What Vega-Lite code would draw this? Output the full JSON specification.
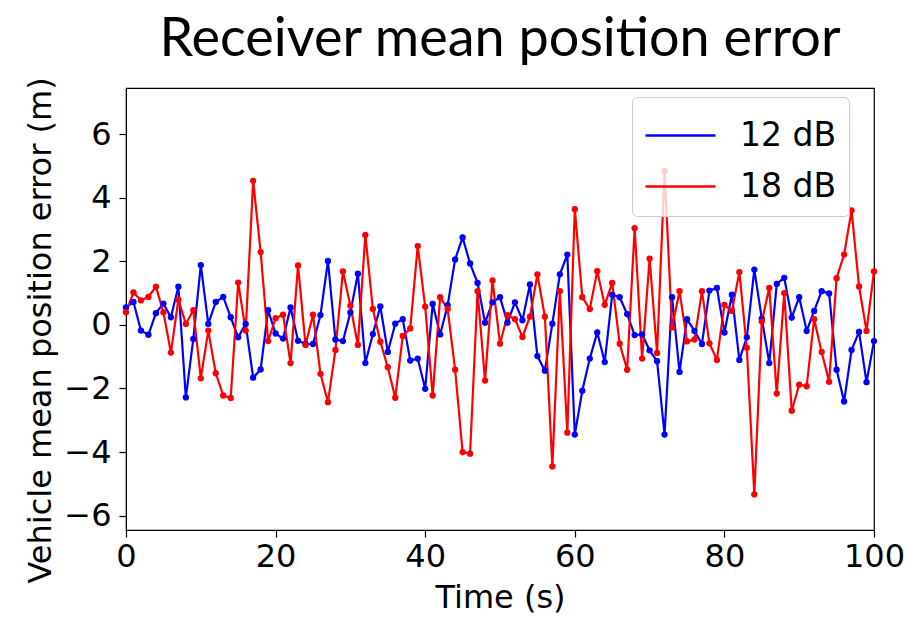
{
  "$schema": "https://vega.github.io/schema/vega-lite/v6.json",
  "autosize": {"type": "none"},
  "padding": {"left": 126, "top": 88, "right": 44, "bottom": 91},
  "width": 748,
  "height": 442,
  "background": "white",
  "title": {
    "text": "Receiver mean position error",
    "font": "Lato",
    "fontSize": 54,
    "fontWeight": "normal",
    "color": "black",
    "anchor": "middle",
    "offset": 26,
    "dy": 16
  },
  "config": {
    "view": {"stroke": "black", "strokeWidth": 1.2},
    "axis": {
      "grid": false,
      "domainColor": "black",
      "tickColor": "black",
      "labelColor": "black",
      "titleColor": "black",
      "labelFont": "DejaVu Sans",
      "titleFont": "DejaVu Sans",
      "titleFontWeight": "normal",
      "labelFontSize": 32,
      "titleFontSize": 32,
      "tickSize": 7,
      "tickWidth": 1.2
    }
  },
  "data": {"values": [
    {"t":0,"v":0.55,"s":"12 dB"},{"t":1,"v":0.72,"s":"12 dB"},{"t":2,"v":-0.18,"s":"12 dB"},{"t":3,"v":-0.31,"s":"12 dB"},{"t":4,"v":0.37,"s":"12 dB"},{"t":5,"v":0.67,"s":"12 dB"},{"t":6,"v":0.24,"s":"12 dB"},{"t":7,"v":1.2,"s":"12 dB"},{"t":8,"v":-2.28,"s":"12 dB"},{"t":9,"v":-0.44,"s":"12 dB"},
    {"t":10,"v":1.88,"s":"12 dB"},{"t":11,"v":0.03,"s":"12 dB"},{"t":12,"v":0.72,"s":"12 dB"},{"t":13,"v":0.88,"s":"12 dB"},{"t":14,"v":0.24,"s":"12 dB"},{"t":15,"v":-0.39,"s":"12 dB"},{"t":16,"v":0.03,"s":"12 dB"},{"t":17,"v":-1.66,"s":"12 dB"},{"t":18,"v":-1.4,"s":"12 dB"},{"t":19,"v":0.46,"s":"12 dB"},
    {"t":20,"v":-0.27,"s":"12 dB"},{"t":21,"v":-0.43,"s":"12 dB"},{"t":22,"v":0.55,"s":"12 dB"},{"t":23,"v":-0.5,"s":"12 dB"},{"t":24,"v":-0.6,"s":"12 dB"},{"t":25,"v":-0.6,"s":"12 dB"},{"t":26,"v":0.31,"s":"12 dB"},{"t":27,"v":2.01,"s":"12 dB"},{"t":28,"v":-0.46,"s":"12 dB"},{"t":29,"v":-0.51,"s":"12 dB"},
    {"t":30,"v":0.39,"s":"12 dB"},{"t":31,"v":1.61,"s":"12 dB"},{"t":32,"v":-1.2,"s":"12 dB"},{"t":33,"v":-0.29,"s":"12 dB"},{"t":34,"v":0.58,"s":"12 dB"},{"t":35,"v":-0.85,"s":"12 dB"},{"t":36,"v":0.04,"s":"12 dB"},{"t":37,"v":0.18,"s":"12 dB"},{"t":38,"v":-1.12,"s":"12 dB"},{"t":39,"v":-1.06,"s":"12 dB"},
    {"t":40,"v":-2.01,"s":"12 dB"},{"t":41,"v":0.66,"s":"12 dB"},{"t":42,"v":-0.3,"s":"12 dB"},{"t":43,"v":0.62,"s":"12 dB"},{"t":44,"v":2.06,"s":"12 dB"},{"t":45,"v":2.75,"s":"12 dB"},{"t":46,"v":1.93,"s":"12 dB"},{"t":47,"v":1.32,"s":"12 dB"},{"t":48,"v":0.07,"s":"12 dB"},{"t":49,"v":0.71,"s":"12 dB"},
    {"t":50,"v":0.87,"s":"12 dB"},{"t":51,"v":0.07,"s":"12 dB"},{"t":52,"v":0.71,"s":"12 dB"},{"t":53,"v":0.15,"s":"12 dB"},{"t":54,"v":1.27,"s":"12 dB"},{"t":55,"v":-0.98,"s":"12 dB"},{"t":56,"v":-1.44,"s":"12 dB"},{"t":57,"v":0.04,"s":"12 dB"},{"t":58,"v":1.59,"s":"12 dB"},{"t":59,"v":2.21,"s":"12 dB"},
    {"t":60,"v":-3.45,"s":"12 dB"},{"t":61,"v":-2.07,"s":"12 dB"},{"t":62,"v":-1.06,"s":"12 dB"},{"t":63,"v":-0.24,"s":"12 dB"},{"t":64,"v":-1.17,"s":"12 dB"},{"t":65,"v":0.95,"s":"12 dB"},{"t":66,"v":0.87,"s":"12 dB"},{"t":67,"v":0.34,"s":"12 dB"},{"t":68,"v":-0.32,"s":"12 dB"},{"t":69,"v":-0.3,"s":"12 dB"},
    {"t":70,"v":-0.8,"s":"12 dB"},{"t":71,"v":-1.14,"s":"12 dB"},{"t":72,"v":-3.45,"s":"12 dB"},{"t":73,"v":0.87,"s":"12 dB"},{"t":74,"v":-1.48,"s":"12 dB"},{"t":75,"v":0.18,"s":"12 dB"},{"t":76,"v":-0.19,"s":"12 dB"},{"t":77,"v":-0.6,"s":"12 dB"},{"t":78,"v":1.08,"s":"12 dB"},{"t":79,"v":1.16,"s":"12 dB"},
    {"t":80,"v":-0.24,"s":"12 dB"},{"t":81,"v":0.95,"s":"12 dB"},{"t":82,"v":-1.1,"s":"12 dB"},{"t":83,"v":-0.39,"s":"12 dB"},{"t":84,"v":1.74,"s":"12 dB"},{"t":85,"v":0.2,"s":"12 dB"},{"t":86,"v":-1.2,"s":"12 dB"},{"t":87,"v":1.29,"s":"12 dB"},{"t":88,"v":1.48,"s":"12 dB"},{"t":89,"v":0.23,"s":"12 dB"},
    {"t":90,"v":0.87,"s":"12 dB"},{"t":91,"v":-0.19,"s":"12 dB"},{"t":92,"v":0.44,"s":"12 dB"},{"t":93,"v":1.06,"s":"12 dB"},{"t":94,"v":0.99,"s":"12 dB"},{"t":95,"v":-1.41,"s":"12 dB"},{"t":96,"v":-2.41,"s":"12 dB"},{"t":97,"v":-0.79,"s":"12 dB"},{"t":98,"v":-0.22,"s":"12 dB"},{"t":99,"v":-1.8,"s":"12 dB"},
    {"t":100,"v":-0.51,"s":"12 dB"},
    {"t":0,"v":0.4,"s":"18 dB"},{"t":1,"v":1.02,"s":"18 dB"},{"t":2,"v":0.77,"s":"18 dB"},{"t":3,"v":0.88,"s":"18 dB"},{"t":4,"v":1.2,"s":"18 dB"},{"t":5,"v":0.4,"s":"18 dB"},{"t":6,"v":-0.87,"s":"18 dB"},{"t":7,"v":0.79,"s":"18 dB"},{"t":8,"v":0.03,"s":"18 dB"},{"t":9,"v":0.46,"s":"18 dB"},
    {"t":10,"v":-1.68,"s":"18 dB"},{"t":11,"v":-0.18,"s":"18 dB"},{"t":12,"v":-1.52,"s":"18 dB"},{"t":13,"v":-2.22,"s":"18 dB"},{"t":14,"v":-2.3,"s":"18 dB"},{"t":15,"v":1.33,"s":"18 dB"},{"t":16,"v":-0.18,"s":"18 dB"},{"t":17,"v":4.53,"s":"18 dB"},{"t":18,"v":2.29,"s":"18 dB"},{"t":19,"v":-0.51,"s":"18 dB"},
    {"t":20,"v":0.21,"s":"18 dB"},{"t":21,"v":0.32,"s":"18 dB"},{"t":22,"v":-1.2,"s":"18 dB"},{"t":23,"v":1.87,"s":"18 dB"},{"t":24,"v":-0.63,"s":"18 dB"},{"t":25,"v":0.32,"s":"18 dB"},{"t":26,"v":-1.54,"s":"18 dB"},{"t":27,"v":-2.43,"s":"18 dB"},{"t":28,"v":-0.79,"s":"18 dB"},{"t":29,"v":1.68,"s":"18 dB"},
    {"t":30,"v":0.6,"s":"18 dB"},{"t":31,"v":-0.63,"s":"18 dB"},{"t":32,"v":2.83,"s":"18 dB"},{"t":33,"v":0.5,"s":"18 dB"},{"t":34,"v":-0.53,"s":"18 dB"},{"t":35,"v":-1.33,"s":"18 dB"},{"t":36,"v":-2.29,"s":"18 dB"},{"t":37,"v":-0.35,"s":"18 dB"},{"t":38,"v":-0.11,"s":"18 dB"},{"t":39,"v":2.48,"s":"18 dB"},
    {"t":40,"v":0.57,"s":"18 dB"},{"t":41,"v":-2.22,"s":"18 dB"},{"t":42,"v":0.87,"s":"18 dB"},{"t":43,"v":0.5,"s":"18 dB"},{"t":44,"v":-1.41,"s":"18 dB"},{"t":45,"v":-4.0,"s":"18 dB"},{"t":46,"v":-4.05,"s":"18 dB"},{"t":47,"v":1.06,"s":"18 dB"},{"t":48,"v":-1.75,"s":"18 dB"},{"t":49,"v":1.4,"s":"18 dB"},
    {"t":50,"v":-0.59,"s":"18 dB"},{"t":51,"v":0.31,"s":"18 dB"},{"t":52,"v":0.18,"s":"18 dB"},{"t":53,"v":-0.38,"s":"18 dB"},{"t":54,"v":0.26,"s":"18 dB"},{"t":55,"v":1.59,"s":"18 dB"},{"t":56,"v":0.26,"s":"18 dB"},{"t":57,"v":-4.45,"s":"18 dB"},{"t":58,"v":1.06,"s":"18 dB"},{"t":59,"v":-3.39,"s":"18 dB"},
    {"t":60,"v":3.64,"s":"18 dB"},{"t":61,"v":0.87,"s":"18 dB"},{"t":62,"v":0.5,"s":"18 dB"},{"t":63,"v":1.69,"s":"18 dB"},{"t":64,"v":0.63,"s":"18 dB"},{"t":65,"v":1.32,"s":"18 dB"},{"t":66,"v":-0.59,"s":"18 dB"},{"t":67,"v":-1.41,"s":"18 dB"},{"t":68,"v":3.04,"s":"18 dB"},{"t":69,"v":-1.06,"s":"18 dB"},
    {"t":70,"v":2.08,"s":"18 dB"},{"t":71,"v":-0.88,"s":"18 dB"},{"t":72,"v":4.84,"s":"18 dB"},{"t":73,"v":-0.08,"s":"18 dB"},{"t":74,"v":1.06,"s":"18 dB"},{"t":75,"v":-0.52,"s":"18 dB"},{"t":76,"v":-0.46,"s":"18 dB"},{"t":77,"v":1.06,"s":"18 dB"},{"t":78,"v":-0.58,"s":"18 dB"},{"t":79,"v":-1.1,"s":"18 dB"},
    {"t":80,"v":0.63,"s":"18 dB"},{"t":81,"v":0.44,"s":"18 dB"},{"t":82,"v":1.66,"s":"18 dB"},{"t":83,"v":-0.72,"s":"18 dB"},{"t":84,"v":-5.33,"s":"18 dB"},{"t":85,"v":0.11,"s":"18 dB"},{"t":86,"v":1.16,"s":"18 dB"},{"t":87,"v":-2.16,"s":"18 dB"},{"t":88,"v":1.0,"s":"18 dB"},{"t":89,"v":-2.7,"s":"18 dB"},
    {"t":90,"v":-1.88,"s":"18 dB"},{"t":91,"v":-1.93,"s":"18 dB"},{"t":92,"v":0.18,"s":"18 dB"},{"t":93,"v":-0.85,"s":"18 dB"},{"t":94,"v":-1.79,"s":"18 dB"},{"t":95,"v":1.47,"s":"18 dB"},{"t":96,"v":2.21,"s":"18 dB"},{"t":97,"v":3.6,"s":"18 dB"},{"t":98,"v":1.21,"s":"18 dB"},{"t":99,"v":-0.19,"s":"18 dB"},
    {"t":100,"v":1.68,"s":"18 dB"}
  ]},
  "mark": {"type": "line", "strokeWidth": 2.2, "point": {"filled": true, "size": 40}},
  "encoding": {
    "x": {
      "field": "t", "type": "quantitative", "title": "Time (s)",
      "scale": {"domain": [0, 100], "nice": false, "zero": false},
      "axis": {"values": [0, 20, 40, 60, 80, 100], "labelPadding": 4, "titlePadding": 10, "labelFlush": false}
    },
    "y": {
      "field": "v", "type": "quantitative", "title": "Vehicle mean position error (m)",
      "scale": {"domain": [-6.45, 7.45], "nice": false, "zero": false},
      "axis": {"values": [-6, -4, -2, 0, 2, 4, 6], "labelPadding": 8, "titlePadding": 6, "titleY": 242, "labelFlush": false}
    },
    "color": {
      "field": "s", "type": "nominal",
      "scale": {"domain": ["12 dB", "18 dB"], "range": ["#0000ff", "#ff0000"]},
      "legend": {
        "title": null,
        "orient": "none",
        "legendX": 506,
        "legendY": 9,
        "direction": "vertical",
        "symbolType": "M-1.4,0H1.4",
        "symbolSize": 2500,
        "symbolStrokeWidth": 2.5,
        "symbolOffset": 10,
        "labelFont": "DejaVu Sans",
        "labelFontSize": 33,
        "labelColor": "black",
        "labelOffset": 33,
        "rowPadding": 7,
        "padding": 12,
        "fillColor": "rgba(255,255,255,0.8)",
        "strokeColor": "#cccccc",
        "cornerRadius": 5
      }
    }
  }
}
